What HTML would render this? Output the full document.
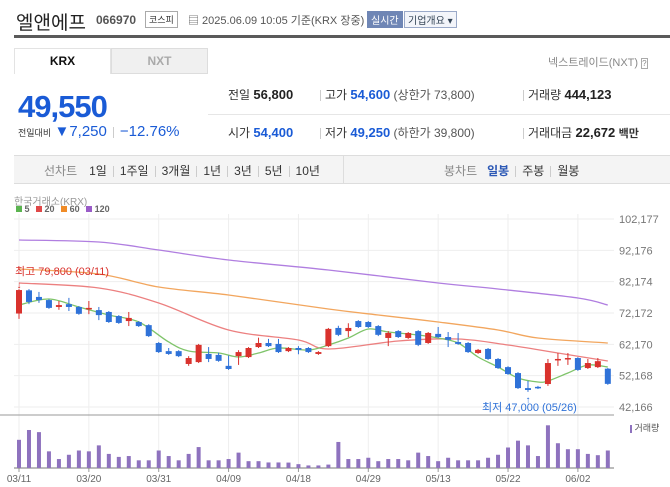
<!DOCTYPE html>
<html><head><meta charset="utf-8">
<style>
*{margin:0;padding:0;box-sizing:border-box}
body{width:670px;height:487px;background:#fff;font-family:"Liberation Sans","Noto Sans CJK KR",sans-serif;position:relative;overflow:hidden;color:#333}
.a{position:absolute;white-space:nowrap}
.blue{color:#1a5bd6}
.sep{display:inline-block;width:1px;height:11px;background:#ccc;margin:0 6px;vertical-align:middle}
</style></head><body>
<div class="a" style="left:16px;top:8px;font-size:19px;color:#222">엘앤에프</div>
<div class="a" style="left:96px;top:13px;font-size:12px;font-weight:bold;color:#555">066970</div>
<div class="a" style="left:145px;top:11px;font-size:9px;border:1px solid #aaa;padding:1px 3px;color:#333">코스피</div>
<div class="a" style="left:188px;top:12px;font-size:11px;color:#555">▤ 2025.06.09 10:05 기준(KRX 장중)</div>
<div class="a" style="left:367px;top:11px;font-size:10px;background:#6f86b5;color:#fff;padding:1px 4px">실시간</div>
<div class="a" style="left:404px;top:11px;font-size:10px;border:1px solid #9aa9c8;color:#345;padding:0 3px;background:#f3f5fa">기업개요 ▾</div>
<div class="a" style="left:14px;top:35px;width:656px;height:3px;background:#5a5a5a"></div>

<div class="a" style="left:14px;top:48px;width:97px;height:26px;border:1px solid #e3e3e3;border-bottom:none;text-align:center;line-height:25px;font-size:12px;font-weight:bold;color:#111">KRX</div>
<div class="a" style="left:111px;top:48px;width:97px;height:26px;border:1px solid #ddd;background:#f0f0f0;text-align:center;line-height:25px;font-size:12px;font-weight:bold;color:#aaa">NXT</div>
<div class="a" style="left:548px;top:54px;font-size:11px;color:#888">넥스트레이드(NXT) <span style="font-size:8px;border:1px solid #aaa">?</span></div>

<div class="a blue" style="left:18px;top:89px;font-size:31px;font-weight:bold;letter-spacing:-1px">49,550</div>
<div class="a" style="left:18px;top:123px;font-size:12px"><span style="font-size:9px;color:#333">전일대비</span> <span class="blue" style="font-size:15px">▼7,250</span><span class="sep"></span><span class="blue" style="font-size:15px">−12.76%</span></div>

<div class="a" style="left:208px;top:114px;width:462px;height:1px;background:#e6e6e6"></div>
<div class="a" style="left:228px;top:86px;font-size:12px">전일 <b style="color:#222;font-size:13px">56,800</b></div>
<div class="a" style="left:320px;top:86px;font-size:12px"><span class="sep" style="margin:0 4px 0 0"></span>고가 <b class="blue" style="font-size:13px">54,600</b> <span style="color:#555">(상한가 73,800)</span></div>
<div class="a" style="left:523px;top:86px;font-size:12px"><span class="sep" style="margin:0 4px 0 0"></span>거래량 <b style="color:#222;font-size:13px">444,123</b></div>
<div class="a" style="left:228px;top:124px;font-size:12px">시가 <b class="blue" style="font-size:13px">54,400</b></div>
<div class="a" style="left:320px;top:124px;font-size:12px"><span class="sep" style="margin:0 4px 0 0"></span>저가 <b class="blue" style="font-size:13px">49,250</b> <span style="color:#555">(하한가 39,800)</span></div>
<div class="a" style="left:523px;top:124px;font-size:12px"><span class="sep" style="margin:0 4px 0 0"></span>거래대금 <b style="color:#222;font-size:13px">22,672</b> <b style="font-size:11px">백만</b></div>

<div class="a" style="left:14px;top:155px;width:656px;height:29px;background:#f4f4f4;border-top:1px solid #ddd;border-bottom:1px solid #ddd"></div>
<div class="a" style="left:343px;top:156px;width:1px;height:27px;background:#ddd"></div>
<div class="a" style="left:44px;top:162px;font-size:12px;color:#333"><span style="color:#888">선차트</span><span style="margin-left:12px">1일</span><span class="sep"></span><span>1주일</span><span class="sep"></span><span>3개월</span><span class="sep"></span><span>1년</span><span class="sep"></span><span>3년</span><span class="sep"></span><span>5년</span><span class="sep"></span><span>10년</span></div>
<div class="a" style="left:444px;top:162px;font-size:12px"><span style="color:#888">봉차트</span><span style="margin-left:10px;color:#2c58b5;font-weight:bold">일봉</span><span class="sep"></span><span>주봉</span><span class="sep"></span><span>월봉</span></div>

<div class="a" style="left:14px;top:193px;font-size:10px;color:#999">한국거래소(KRX)</div>
<div class="a" style="left:16px;top:204px;font-size:9px;font-weight:bold;color:#666">
<span><span style="display:inline-block;width:6px;height:6px;background:#5bb450"></span> 5</span>
<span style="margin-left:4px"><span style="display:inline-block;width:6px;height:6px;background:#e04848"></span> 20</span>
<span style="margin-left:4px"><span style="display:inline-block;width:6px;height:6px;background:#f08c28"></span> 60</span>
<span style="margin-left:4px"><span style="display:inline-block;width:6px;height:6px;background:#9a5cc8"></span> 120</span></div>
<div class="a" style="left:630px;top:421px;font-size:9px;color:#555"><span style="display:inline-block;width:2px;height:8px;background:#8e72be;vertical-align:middle"></span> 거래량</div>

<svg id="chart" class="a" style="left:0;top:0" width="670" height="487"></svg>
<script>
const dates=["03/11","03/20","03/31","04/09","04/18","04/29","05/13","05/22","06/02"];
const dateIdx=[0,7,14,21,28,35,42,49,56];
const yTicks=[42166,52168,62170,72172,82174,92176,102177];
const opens=[72000,79400,77300,76300,74100,75000,74100,73500,73100,72500,71200,69600,69300,68300,62600,60000,60000,55900,56500,59100,58800,55300,58400,58100,61300,62600,62300,60000,61000,61000,59100,61600,67400,66400,69600,69300,68000,64200,66400,64200,66400,62600,65500,64500,62900,62600,59400,60700,57500,54900,53000,48200,48600,49500,57200,57500,57800,54600,54900,54400];
const highs=[79800,79800,78900,76600,76000,77000,74400,76000,74100,72800,71500,72500,69600,68600,62900,61000,60300,58400,62300,61300,59500,58600,60300,61300,64300,63900,63900,61300,61600,61300,60000,67400,68100,68900,69900,69600,68300,66400,66700,66100,66700,66100,67700,66100,65800,62900,60700,61000,57800,55200,53300,50500,48900,57500,59400,59400,58100,57500,57800,54600];
const lows=[70300,75000,75400,73500,73200,72800,71600,71800,69900,69000,68700,68000,67700,64500,59400,58800,58100,55300,56200,56500,56600,54000,55600,57800,61000,61300,59400,59700,59000,59400,58800,61300,64800,64500,67400,67400,64800,61600,64200,63900,61600,62300,64200,61300,62000,59400,59100,57200,54300,52400,47900,47000,47900,48900,55300,55600,53700,54300,54600,49250];
const closes=[79500,75700,76300,73800,74700,74100,71900,73800,71500,69300,69000,70600,68000,64800,59700,59100,58400,57800,62000,57500,56900,54300,59700,61000,62600,61600,59700,61000,60400,59700,59700,67100,65200,67400,67700,67700,65200,65800,64500,65800,62000,65800,64500,63600,62300,59700,60400,57500,54600,52700,48200,47600,48200,56200,57500,57800,54000,56200,56800,49550];
const volumes=[660,890,840,390,210,310,410,390,530,330,260,280,180,180,410,280,180,330,490,180,180,210,360,160,160,130,130,127,90,60,60,80,610,210,210,240,160,210,210,180,360,280,160,240,180,180,180,240,310,480,640,530,280,1000,580,440,440,330,300,410];
const ma5Idx=[0,3,6,9,12,15,17,20,22,24,26,29,31,33,35,37,40,42,44,46,48,50,52,53,55,57,59];
const ma5Val=[74726,76641,74088,71534,69300,62916,60043,59404,58128,59404,61000,60362,61958,64192,67065,66108,65150,64192,62596,58128,54936,51425,50148,50467,53021,55574,54936];
const ma20Idx=[0,8,14,21,28,31,38,44,49,54,59];
const ma20Val=[81748,80152,75364,66746,63554,60681,63235,63873,61958,59404,56851];
const ma60Idx=[0,8,14,21,31,36,42,48,52,59];
const ma60Val=[86217,84621,80471,77918,73449,71534,69300,66746,64192,62596];
const ma120Idx=[0,8,14,21,31,42,48,56,59];
const ma120Val=[95474,94836,92282,89090,85898,81748,79833,76960,74726];

const svg=document.getElementById('chart');const NS='http://www.w3.org/2000/svg';
const X=i=>19+i*9.98;
const Y=v=>219+(102177-v)/60011*188;
const VB=468;const VY=v=>VB-v/1000*42.7;
function mk(t,a){const e=document.createElementNS(NS,t);for(const k in a)e.setAttribute(k,a[k]);svg.appendChild(e);return e;}
yTicks.forEach((t,k)=>{const g=mk('line',{x1:14,x2:614,y1:Y(t),y2:Y(t),stroke:'#eee'});


const tx=mk('text',{x:619,y:Y(t)+4,'font-size':11,fill:'#777','font-family':'Liberation Sans, sans-serif'});tx.textContent=t.toLocaleString('en-US');

});
dateIdx.forEach((d,k)=>{const g=mk('line',{x1:X(d),x2:X(d),y1:214,y2:468,stroke:'#eee'});


const tk=mk('line',{x1:X(d),x2:X(d),y1:468,y2:472,stroke:'#999'});


const tx=mk('text',{x:X(d),y:482,'font-size':10,fill:'#666','text-anchor':'middle','font-family':'Liberation Sans, sans-serif'});tx.textContent=dates[k];

});
const pb=mk('line',{x1:0,x2:614,y1:415,y2:415,stroke:'#999'});


const vb=mk('line',{x1:14,x2:614,y1:VB,y2:VB,stroke:'#777'});


function ma(idx,val,col,name){
const pts=idx.map((d,k)=>[X(d),Y(val[k])]);
let dstr='M'+pts[0][0]+','+pts[0][1];
for(let k=0;k<pts.length-1;k++){const p0=pts[Math.max(0,k-1)],p1=pts[k],p2=pts[k+1],p3=pts[Math.min(pts.length-1,k+2)];
dstr+=' C'+(p1[0]+(p2[0]-p0[0])/6)+','+(p1[1]+(p2[1]-p0[1])/6)+' '+(p2[0]-(p3[0]-p1[0])/6)+','+(p2[1]-(p3[1]-p1[1])/6)+' '+p2[0]+','+p2[1];}
const p=mk('path',{d:dstr,fill:'none',stroke:col,'stroke-width':1.3});

}
ma(ma120Idx,ma120Val,'#b07ee0','ma120-line');
ma(ma60Idx,ma60Val,'#f2a65e','ma60-line');
ma(ma20Idx,ma20Val,'#ec8080','ma20-line');
ma(ma5Idx,ma5Val,'#7fc46a','ma5-line');
opens.forEach((o,i)=>{const c=closes[i];const up=c>=o;const col=up?'#d9322d':'#2f72d8';
const w=mk('line',{x1:X(i),x2:X(i),y1:Y(highs[i]),y2:Y(lows[i]),stroke:col});


const t=Y(Math.max(o,c)),b=Y(Math.min(o,c));
const r=mk('rect',{x:X(i)-3,y:t,width:6,height:Math.max(1.5,b-t),fill:col});


const v=mk('rect',{x:X(i)-2,y:VY(volumes[i]),width:4,height:VB-VY(volumes[i]),fill:'#8e72be'});

});
const hiI=highs.indexOf(Math.max(...highs)),loI=lows.indexOf(Math.min(...lows));
const ha=mk('text',{x:15,y:Y(highs[hiI])-14,'font-size':11,fill:'#d9322d','font-family':'Liberation Sans, Noto Sans CJK KR, sans-serif'});ha.textContent='최고 79,800 (03/11)';


const har=mk('text',{x:X(hiI),y:Y(highs[hiI])-1,'font-size':10,fill:'#d9322d','text-anchor':'middle'});har.textContent='↓';


const lar=mk('text',{x:X(loI),y:Y(lows[loI])+11,'font-size':10,fill:'#2f72d8','text-anchor':'middle'});lar.textContent='↑';


const la=mk('text',{x:482,y:Y(lows[loI])+19,'font-size':11,fill:'#2f72d8','font-family':'Liberation Sans, Noto Sans CJK KR, sans-serif'});la.textContent='최저 47,000 (05/26)';


</script>
</body></html>
